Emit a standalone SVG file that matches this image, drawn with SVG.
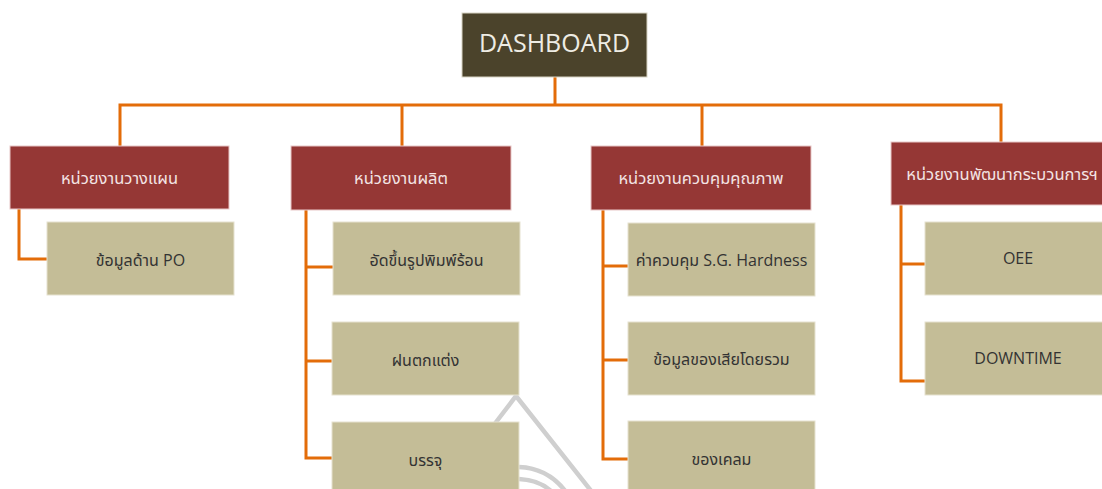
<svg xmlns="http://www.w3.org/2000/svg" width="1102" height="489" viewBox="0 0 1102 489">
  <style>
    .root{fill:#4B432B;stroke:#d8d4c4;stroke-width:1}
    .dept{fill:#953735;stroke:#e8c8c8;stroke-width:1}
    .item{fill:#C4BD97;stroke:#e6e2cf;stroke-width:1}
    .conn{fill:none;stroke:#E36C09;stroke-width:3;stroke-linejoin:miter}
    .wm{fill:none;stroke:#cfcfcf;stroke-width:4.5}
    text{font-family:"Open Sans","Noto Sans Thai","Leelawadee UI","Noto Sans",sans-serif;text-anchor:middle}
    .tRoot{font-size:25px;fill:#eeece4}
    .tDept{font-size:16.5px;fill:#f3e4e4}
    .tItem{font-size:16px;fill:#333333}
  </style>
  <rect width="1102" height="489" fill="#ffffff"/>
  <g id="watermark">
    <path class="wm" d="M490 430 L516 396 L592 492"/>
    <path class="wm" d="M519 467 Q548 468 566 492"/>
    <path class="wm" d="M519 479 Q540 480 552 492"/>
  </g>
  <g id="connectors">
    <path class="conn" d="M555 77 V105"/>
    <path class="conn" d="M120 146 V105 H1001 V142"/>
    <path class="conn" d="M402 105 V146"/>
    <path class="conn" d="M702 105 V146"/>
    <path class="conn" d="M19 209 V259 H47"/>
    <path class="conn" d="M306 210 V458 H332"/>
    <path class="conn" d="M306 267 H333"/>
    <path class="conn" d="M306 361 H332"/>
    <path class="conn" d="M603 210 V459 H628"/>
    <path class="conn" d="M603 266 H628"/>
    <path class="conn" d="M603 360 H628"/>
    <path class="conn" d="M901 205 V381 H925"/>
    <path class="conn" d="M901 264 H925"/>
  </g>
  <g id="dashboard">
    <rect class="root" x="462" y="13" width="185" height="64"/>
    <text class="tRoot" x="554.5" y="52">DASHBOARD</text>
  </g>
  <g id="planning">
    <rect class="dept" x="10" y="146" width="219" height="63"/>
    <text class="tDept" x="119.5" y="184">หน่วยงานวางแผน</text>
  </g>
  <g id="production">
    <rect class="dept" x="291" y="146" width="220" height="64"/>
    <text class="tDept" x="401" y="184">หน่วยงานผลิต</text>
  </g>
  <g id="quality">
    <rect class="dept" x="591" y="146" width="220" height="64"/>
    <text class="tDept" x="701" y="184">หน่วยงานควบคุมคุณภาพ</text>
  </g>
  <g id="development">
    <rect class="dept" x="891" y="142" width="222" height="63"/>
    <text class="tDept" x="1002" y="180">หน่วยงานพัฒนากระบวนการฯ</text>
  </g>
  <g id="po-data">
    <rect class="item" x="47" y="222" width="187" height="73"/>
    <text class="tItem" x="140.5" y="266">ข้อมูลด้าน PO</text>
  </g>
  <g id="hot-press">
    <rect class="item" x="333" y="222" width="187" height="73"/>
    <text class="tItem" x="426.5" y="266">อัดขึ้นรูปพิมพ์ร้อน</text>
  </g>
  <g id="finishing">
    <rect class="item" x="332" y="322" width="187" height="73"/>
    <text class="tItem" x="425.5" y="366">ฝนตกแต่ง</text>
  </g>
  <g id="packing">
    <rect class="item" x="332" y="422" width="187" height="80"/>
    <text class="tItem" x="425.5" y="466">บรรจุ</text>
  </g>
  <g id="sg-hardness">
    <rect class="item" x="628" y="223" width="187" height="73"/>
    <text class="tItem" x="721.5" y="266">ค่าควบคุม S.G. Hardness</text>
  </g>
  <g id="defect-data">
    <rect class="item" x="628" y="322" width="187" height="73"/>
    <text class="tItem" x="721.5" y="365">ข้อมูลของเสียโดยรวม</text>
  </g>
  <g id="claims">
    <rect class="item" x="628" y="421" width="187" height="80"/>
    <text class="tItem" x="721.5" y="465">ของเคลม</text>
  </g>
  <g id="oee">
    <rect class="item" x="925" y="222" width="190" height="73"/>
    <text class="tItem" x="1018" y="264">OEE</text>
  </g>
  <g id="downtime">
    <rect class="item" x="925" y="322" width="190" height="73"/>
    <text class="tItem" x="1018" y="364">DOWNTIME</text>
  </g>
</svg>
